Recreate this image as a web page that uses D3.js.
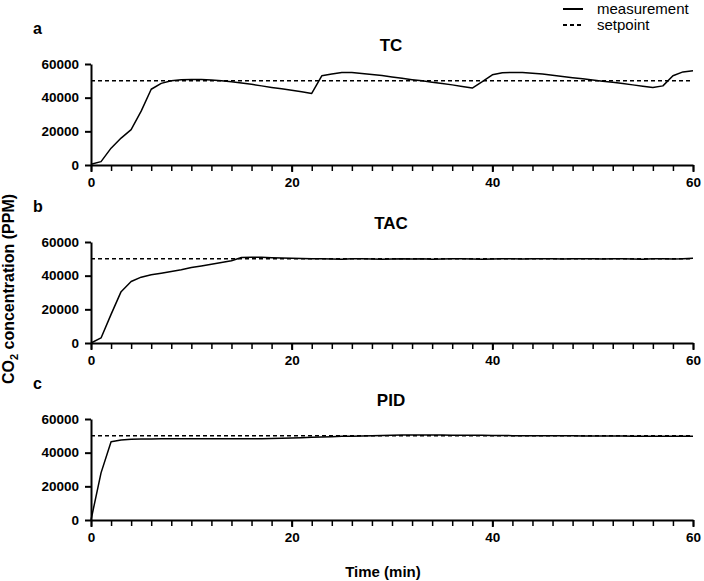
<!DOCTYPE html>
<html>
<head>
<meta charset="utf-8">
<script src="https://cdn.jsdelivr.net/npm/d3@7"></script>
<style>
  body { margin: 0; background: #fff; }
  .narrow { font-family: 'Liberation Sans', Arial, sans-serif; font-weight: bold; }
  .plain { font-family: 'Liberation Sans', Arial, sans-serif; }
</style>
</head>
<body>
<div id="chart"></div>
<script>
// time in minutes, one sample per minute
let minutes = d3.range(0, 61);
let setpoint = 50000;

let tcValues = [500, 2000, 10000, 16000, 21000, 32000, 45000, 48500, 50000, 50600,
    50800, 50800, 50500, 50000, 49500, 48700, 47900, 47000, 46100, 45300,
    44400, 43500, 42500, 53000, 54000, 55000, 55000, 54400, 53800, 53100,
    52300, 51500, 50700, 50000, 49200, 48400, 47600, 46700, 45700, 49500,
    53600, 54800, 55000, 55000, 54500, 54000, 53300, 52600, 51900, 51200,
    50500, 49800, 49100, 48400, 47600, 46800, 46000, 47000, 53000, 55300,
    56000];

let tacValues = [0, 3000, 17000, 30500, 36500, 39100, 40500, 41500, 42500, 43500,
    44800, 45800, 46800, 47800, 48900, 50800, 51000, 50900, 50700, 50500,
    50300, 50200, 50100, 50000, 49900, 49800, 50000, 50100, 49900, 49800,
    49900, 50000, 49900, 50000, 49800, 49900, 50000, 50000, 49900, 49800,
    49900, 50000, 50000, 49900, 50000, 50100, 50000, 49900, 50000, 50100,
    50000, 49900, 50000, 50000, 49900, 49800, 50000, 50000, 49900, 50000,
    50300];

let pidValues = [0, 28000, 46500, 47500, 48000, 48100, 48100, 48200, 48200, 48200,
    48200, 48200, 48200, 48200, 48200, 48300, 48300, 48300, 48400, 48500,
    48700, 48900, 49100, 49300, 49500, 49700, 49800, 49900, 50000, 50200,
    50400, 50500, 50500, 50500, 50500, 50500, 50400, 50400, 50300, 50300,
    50200, 50200, 50100, 50100, 50000, 50000, 50000, 50000, 50000, 49900,
    49900, 49900, 49900, 49900, 49800, 49800, 49800, 49800, 49700, 49700,
    49700];

let panels = [
    { letter: 'a', title: 'TC', values: tcValues, top: 64 },
    { letter: 'b', title: 'TAC', values: tacValues, top: 242 },
    { letter: 'c', title: 'PID', values: pidValues, top: 419 }
];

let yTicks = [0, 20000, 40000, 60000];
let xTicks = [0, 20, 40, 60];

let width = 704;
let height = 581;
let left = 91, right = 693, plotH = 101;

const svg = d3.select('#chart')
    .append('svg')
    .attr('width', width)
    .attr('height', height);

let x = d3.scaleLinear()
    .domain([0, 60])
    .range([left, right]);

panels.forEach(p => {
    let y = d3.scaleLinear()
        .domain([0, 60000])
        .range([p.top + plotH, p.top]);

    let g = svg.append('g');

    // setpoint
    g.append('line')
        .attr('x1', x(0)).attr('x2', x(60))
        .attr('y1', y(setpoint)).attr('y2', y(setpoint))
        .attr('stroke', '#000')
        .attr('stroke-width', 1.5)
        .attr('stroke-dasharray', '4,3');

    // measurement
    let line = d3.line()
        .x((d, i) => x(minutes[i]))
        .y(d => y(d));

    g.append('path')
        .datum(p.values)
        .attr('fill', 'none')
        .attr('stroke', '#000')
        .attr('stroke-width', 1.5)
        .attr('stroke-linejoin', 'round')
        .attr('d', line);

    // x axis with minor ticks every 2 min
    g.append('g')
        .attr('transform', `translate(0,${p.top + plotH})`)
        .call(d3.axisBottom(x).tickValues(d3.range(0, 61, 2)).tickFormat('').tickSize(6).tickSizeOuter(0))
        .call(a => a.select('.domain').attr('stroke-width', 2))
        .call(a => a.selectAll('.tick line').attr('stroke-width', 1.5));

    g.append('g')
        .attr('transform', `translate(0,${p.top + plotH})`)
        .call(d3.axisBottom(x).tickValues(xTicks).tickSize(7).tickPadding(5).tickSizeOuter(0))
        .call(a => a.select('.domain').remove())
        .call(a => a.selectAll('.tick line').attr('stroke-width', 2))
        .call(a => a.selectAll('text').attr('class', 'narrow').style('font-size', '13.5px').attr('fill', '#000'));

    // y axis
    g.append('g')
        .attr('transform', `translate(${left},0)`)
        .call(d3.axisLeft(y).tickValues(yTicks).tickFormat(d3.format('d')).tickSize(6).tickPadding(6).tickSizeOuter(0))
        .call(a => a.select('.domain').attr('stroke-width', 2))
        .call(a => a.selectAll('.tick line').attr('stroke-width', 2))
        .call(a => a.selectAll('text').attr('class', 'narrow').style('font-size', '13.5px').attr('fill', '#000'));

    // title and letter
    g.append('text')
        .attr('class', 'narrow')
        .attr('x', 391)
        .attr('y', p.top - 13)
        .attr('text-anchor', 'middle')
        .style('font-size', '17px')
        .text(p.title);

    g.append('text')
        .attr('class', 'narrow')
        .attr('x', 33)
        .attr('y', p.top - 30)
        .style('font-size', '16px')
        .text(p.letter);
});

// axis labels
svg.append('text')
    .attr('class', 'narrow')
    .attr('x', 383)
    .attr('y', 577)
    .attr('text-anchor', 'middle')
    .style('font-size', '15px')
    .text('Time (min)');

let yl = svg.append('text')
    .attr('class', 'plain')
    .attr('transform', 'translate(14,289) rotate(-90)')
    .attr('text-anchor', 'middle')
    .style('font-size', '16px')
    .style('font-weight', 'bold');
yl.append('tspan').text('CO');
yl.append('tspan').attr('dy', 4).style('font-size', '11px').text('2');
yl.append('tspan').attr('dy', -4).text(' concentration (PPM)');

// legend
let legend = [
    { label: 'measurement', dash: null },
    { label: 'setpoint', dash: '4,3' }
];
legend.forEach((d, i) => {
    let ly = 9 + i * 16;
    svg.append('line')
        .attr('x1', 563).attr('x2', 583)
        .attr('y1', ly).attr('y2', ly)
        .attr('stroke', '#000')
        .attr('stroke-width', 2)
        .attr('stroke-dasharray', d.dash);
    svg.append('text')
        .attr('class', 'plain')
        .attr('x', 597)
        .attr('y', ly + 5)
        .style('font-size', '15px')
        .text(d.label);
});
</script>
</body>
</html>
